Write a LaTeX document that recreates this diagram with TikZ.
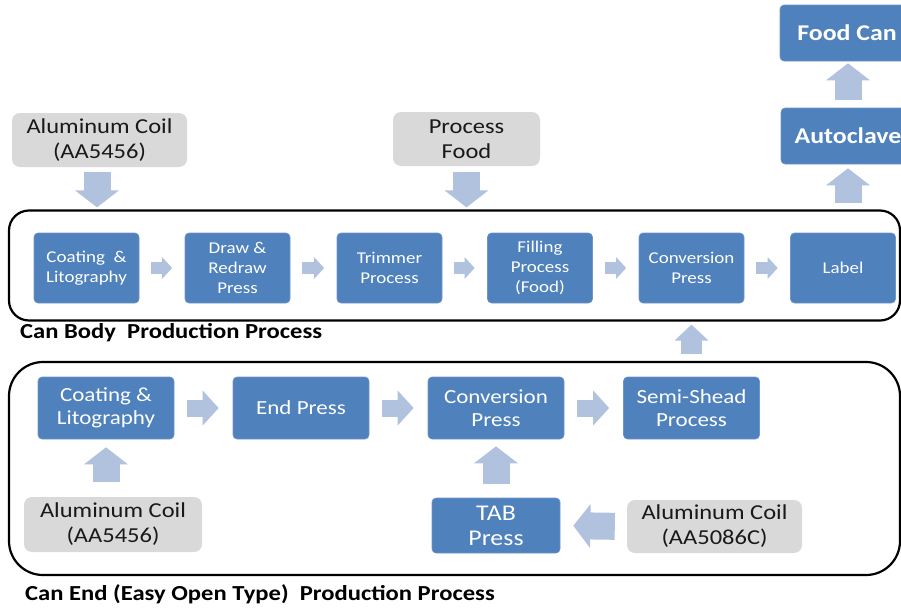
\documentclass[tikz,border=0pt]{standalone}
\usepackage{fontspec}
\setmainfont{Carlito}[FakeStretch=1.15]
\usetikzlibrary{arrows.meta,calc}

\definecolor{procblue}{RGB}{79,129,189}
\definecolor{procedge}{RGB}{110,150,200}
\definecolor{inputgray}{RGB}{217,217,217}
\definecolor{flowblue}{RGB}{176,194,222}

\tikzset{
  proc/.style={fill=procblue, draw=procedge, line width=0.6pt, rounded corners=4pt,
    text=white, align=center, inner sep=0pt},
  bodyproc/.style={proc, minimum width=105pt, minimum height=70pt,
    font=\fontsize{16.5}{20}\selectfont},
  endproc/.style={proc, minimum width=136pt, minimum height=62pt,
    font=\fontsize{20}{23}\selectfont},
  finalproc/.style={proc, minimum width=134pt, minimum height=56pt,
    font=\bfseries\fontsize{22.5}{26}\selectfont},
  supply/.style={fill=inputgray, rounded corners=8pt, align=center, text=black!90,
    inner sep=0pt, font=\fontsize{21.3}{25}\selectfont},
  stageframe/.style={draw=black, line width=2.2pt, inner sep=0pt},
  stagecaption/.style={anchor=west, inner sep=0pt, font=\bfseries\fontsize{21.4}{24}\selectfont},
  flowsmall/.style={draw=flowblue, line width=12pt, -{Triangle[width=21pt,length=10pt]}},
  flowmid/.style={draw=flowblue, line width=17pt, -{Triangle[width=34pt,length=16pt]}},
  flowlink/.style={draw=flowblue, line width=21pt, -{Triangle[width=33pt,length=16pt]}},
  flowbig/.style={draw=flowblue, line width=27pt, -{Triangle[width=43pt,length=17pt]}},
}

\begin{document}
\begin{tikzpicture}[x=1pt, y=-1pt]
  \useasboundingbox (0,0) rectangle (901,608);

  % ---- process frames ----
  \node[stageframe, rounded corners=20pt, minimum width=891pt, minimum height=110pt]
    (bodyframe) at (454.5,265.5) {};
  \node[stageframe, rounded corners=34pt, minimum width=891pt, minimum height=213pt]
    (endframe) at (454.5,468.5) {};

  \node[stagecaption] (bodycap) at (20,333) {Can Body\ \ Production Process};
  \node[stagecaption] (endcap) at (25,594) {Can End (Easy Open Type)\ \ Production Process};

  % ---- can body line ----
  \node[bodyproc] (b1) at (86.5,268) {Coating\ \ \&\\Litography};
  \node[bodyproc] (b2) at (237.5,268) {Draw \&\\Redraw\\Press};
  \node[bodyproc] (b3) at (389.5,268) {Trimmer\\Process};
  \node[bodyproc] (b4) at (540,268) {Filling\\Process\\(Food)};
  \node[bodyproc] (b5) at (691.5,268) {Conversion\\Press};
  \node[bodyproc] (b6) at (843,268) {Label};

  \node[supply, minimum width=175pt, minimum height=54pt] (coilbody) at (99.5,140)
    {Aluminum Coil\\(AA5456)};
  \node[supply, minimum width=147pt, minimum height=54pt] (food) at (466.5,139)
    {Process\\Food};

  \node[finalproc] (autoclave) at (848,136) {Autoclave};
  \node[finalproc] (foodcan) at (847,33) {Food Can};

  % ---- can end line ----
  \node[endproc] (e1) at (106,408) {Coating \&\\Litography};
  \node[endproc] (e2) at (301,408) {End Press};
  \node[endproc] (e3) at (496,408) {Conversion\\Press};
  \node[endproc] (e4) at (691.5,408) {Semi-Shead\\Process};
  \node[endproc, minimum width=128pt, minimum height=55pt,
    font=\fontsize{22.5}{25}\selectfont] (tab) at (496,525.5) {TAB\\Press};

  \node[supply, minimum width=178pt, minimum height=55pt] (coilend) at (113,524.5)
    {Aluminum Coil\\(AA5456)};
  \node[supply, minimum width=175pt, minimum height=53pt] (coiltab) at (714.5,526.5)
    {Aluminum Coil\\(AA5086C)};

  % ---- flow arrows: can body ----
  \foreach \a/\b in {b1/b2, b2/b3, b3/b4, b4/b5, b5/b6}
    \draw[flowsmall, shorten <=12pt, shorten >=12.5pt] (\a.east) -- (\b.west);

  \draw[flowbig, shorten <=5pt, shorten >=2pt] (coilbody.south -| 97,0) -- (97,0 |- bodyframe.north);
  \draw[flowbig, shorten <=6pt, shorten >=2pt] (food.south) -- (food.south |- bodyframe.north);
  \draw[flowbig, shorten <=6pt, shorten >=4pt] (autoclave.south |- bodyframe.north) -- (autoclave.south);
  \draw[flowbig, shorten <=8pt, shorten >=2pt] (autoclave.north) -- (autoclave.north |- foodcan.south);

  % ---- flow arrows: can end ----
  \foreach \a/\b in {e1/e2, e2/e3, e3/e4}
    \draw[flowmid, shorten <=13pt, shorten >=14pt] (\a.east) -- (\b.west);

  \draw[flowbig, shorten <=15pt, shorten >=8pt] (coilend.north -| e1.south) -- (e1.south);
  \draw[flowbig, shorten <=14pt, shorten >=7pt] (tab.north) -- (e3.south);
  \draw[flowbig, shorten <=12pt, shorten >=13pt] (coiltab.west) -- (tab.east);

  % ---- can end joins the can body ----
  \draw[flowlink, shorten <=7pt, shorten >=3pt] (b5.south |- endframe.north) -- (b5.south |- bodyframe.south);
\end{tikzpicture}
\end{document}
